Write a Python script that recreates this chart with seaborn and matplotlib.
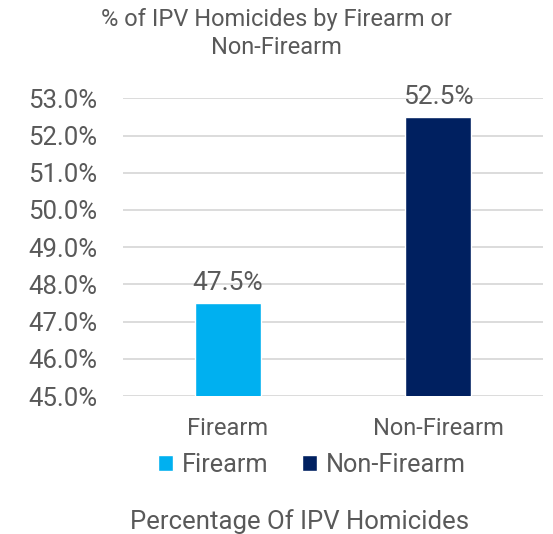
import pandas as pd
import seaborn as sns
import matplotlib.pyplot as plt
from matplotlib.patches import Patch

# data
categories = ["Firearm", "Non-Firearm"]
percentages = [47.5, 52.5]
colors = ["#00B0F0", "#002060"]

df = pd.DataFrame({"type": categories, "pct": percentages})

sns.set_style("white")
plt.rcParams['font.family'] = ['Roboto', 'DejaVu Sans']
gray = "#595959"

fig = plt.figure(figsize=(5.53, 5.34), dpi=100)
ax = fig.add_axes([0.222, 0.258, 0.76, 0.558])

sns.barplot(data=df, x="type", y="pct", hue="type", palette=colors, saturation=1,
            width=0.314, dodge=False, legend=False, ax=ax, zorder=3)

ax.set_ylim(45, 53)
ax.set_xlim(-0.5, 1.5)
ax.set_yticks(range(45, 54))
ax.set_yticklabels([f"{v:.1f}%" for v in range(45, 54)], fontsize=18.5, color=gray)
ax.set_xticks([0, 1])
ax.set_xticklabels(categories, fontsize=17, color=gray)
ax.tick_params(axis="x", length=0, pad=15)
ax.tick_params(axis="y", length=0, pad=18.5)
ax.grid(axis="y", color="#D9D9D9", linewidth=1.3, zorder=0)
for s in ax.spines.values():
    s.set_visible(False)
ax.set_xlabel("")
ax.set_ylabel("")

# value labels
for i, v in enumerate(percentages):
    ax.text(i, v + 0.22, f"{v:.1f}%", ha="center", va="bottom", fontsize=19, color=gray)

# title
fig.text(0.5, 0.938, "% of IPV Homicides by Firearm or\nNon-Firearm", ha="center", va="center",
         fontsize=17, color=gray, linespacing=1.27)

# legend
handles = [Patch(facecolor=c, label=l) for c, l in zip(colors, categories)]
fig.legend(handles=handles, loc="center", bbox_to_anchor=(0.564, 0.129), ncol=2, frameon=False,
           fontsize=18.2, labelcolor=gray, handlelength=0.6, handleheight=0.6,
           handletextpad=0.35, columnspacing=1.3)

# x axis title
fig.text(0.542, 0.024, "Percentage Of IPV Homicides", ha="center", va="center", fontsize=18.5, color=gray)

plt.savefig("out.png", dpi=100)
